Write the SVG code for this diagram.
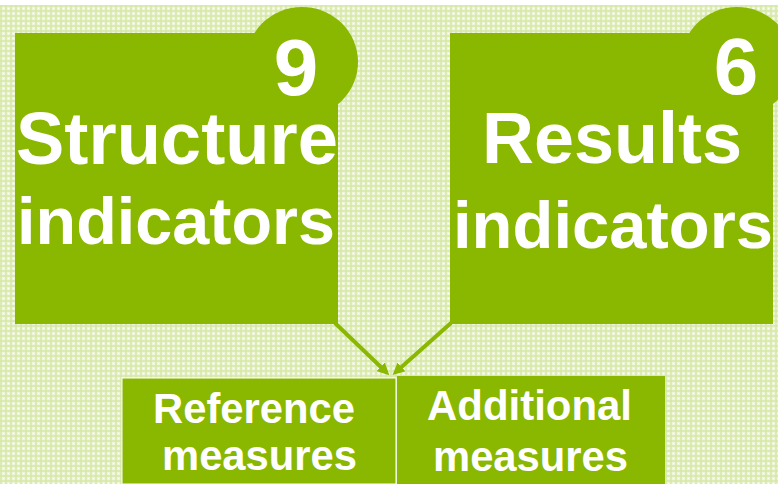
<svg xmlns="http://www.w3.org/2000/svg" width="778" height="484" viewBox="0 0 778 484">
<defs>
<pattern id="ging" x="0" y="0" width="5" height="5" patternUnits="userSpaceOnUse">
<rect width="5" height="5" fill="#eef5dc"/>
<rect x="0" y="0" width="5" height="2" fill="#d6e8a8" fill-opacity="0.8"/>
<rect x="0" y="0" width="2" height="5" fill="#d6e8a8" fill-opacity="0.8"/>
<rect x="3" y="3" width="1" height="1" fill="#ffffff"/>
</pattern>
<marker id="arr" viewBox="0 0 10 10" refX="5" refY="5" markerWidth="3" markerHeight="3" orient="auto">
<path d="M0,0 L10,5 L0,10 z" fill="#8ab700"/>
</marker>
<style>
.box{fill:#8ab700}
.t{font-family:"Liberation Sans",Arial,sans-serif;font-weight:bold;fill:#ffffff}
.con{stroke:#8ab700;stroke-width:4;fill:none}
</style>
</defs>
<rect width="778" height="484" fill="#ffffff"/>
<rect x="0" y="5" width="778" height="479" fill="url(#ging)"/>
<g id="structure">
<ellipse class="box" cx="302" cy="62" rx="56" ry="55"/>
<rect class="box" x="15" y="33" width="323" height="291"/>
<text class="t" x="296" y="95" font-size="80" text-anchor="middle">9</text>
<text class="t" x="16" y="164" font-size="74" textLength="322" lengthAdjust="spacingAndGlyphs">Structure</text>
<text class="t" x="17" y="244" font-size="66" textLength="318" lengthAdjust="spacingAndGlyphs">indicators</text>
</g>
<g id="results">
<ellipse class="box" cx="737" cy="62" rx="56" ry="55"/>
<rect class="box" x="450" y="33" width="323" height="291"/>
<text class="t" x="736" y="94" font-size="80" text-anchor="middle">6</text>
<text class="t" x="482" y="163" font-size="73" textLength="260" lengthAdjust="spacingAndGlyphs">Results</text>
<text class="t" x="453" y="248" font-size="66" textLength="320" lengthAdjust="spacingAndGlyphs">indicators</text>
</g>
<g id="connectors">
<line class="con" x1="335" y1="323" x2="385" y2="371" marker-end="url(#arr)"/>
<line class="con" x1="451" y1="323" x2="397" y2="371" marker-end="url(#arr)"/>
</g>
<g id="reference">
<rect class="box" x="122" y="378" width="274" height="106" stroke="#ffffff" stroke-width="1"/>
<text class="t" x="153" y="423" font-size="42" textLength="202" lengthAdjust="spacingAndGlyphs">Reference</text>
<text class="t" x="162" y="470" font-size="42" textLength="195" lengthAdjust="spacingAndGlyphs">measures</text>
</g>
<g id="additional">
<rect class="box" x="397" y="376" width="268" height="108"/>
<text class="t" x="427" y="420" font-size="42" textLength="205" lengthAdjust="spacingAndGlyphs">Additional</text>
<text class="t" x="433" y="471" font-size="42" textLength="195" lengthAdjust="spacingAndGlyphs">measures</text>
</g>
</svg>
